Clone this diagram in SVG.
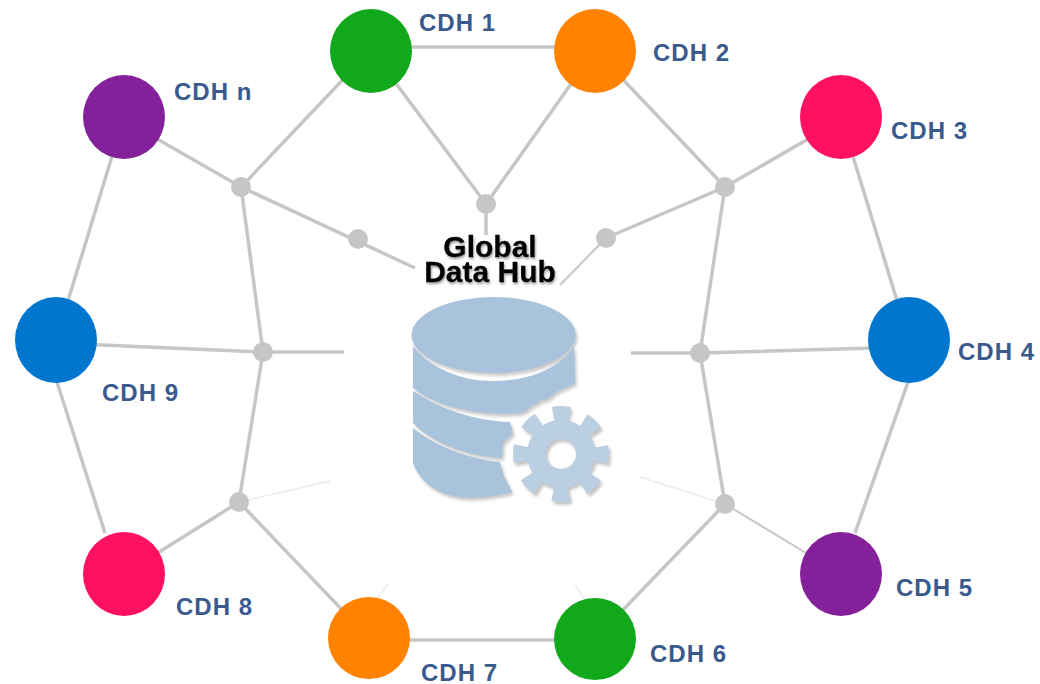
<svg xmlns="http://www.w3.org/2000/svg" width="1040" height="684" viewBox="0 0 1040 684">
<style>
.l{font:bold 24px "Liberation Sans",Arial,sans-serif;fill:#3a5a8e;letter-spacing:1px}
.t{font:bold 30px "Liberation Sans",Arial,sans-serif;fill:#000;text-anchor:middle;stroke:#000;stroke-width:.3px}
.c{fill:none;stroke:#c6c6c6;stroke-width:3.5}
.n{stroke:#c6c6c6;stroke-width:2;fill:none}
.f{stroke:#ececec;stroke-width:1.5;fill:none}
.h{fill:#c6c6c6}
.b{fill:#a9c3dc}
</style>
<defs>
<filter id="s" x="-20%" y="-20%" width="140%" height="140%"><feGaussianBlur stdDeviation="1.6"/></filter>
<filter id="ts" x="-10%" y="-20%" width="120%" height="150%"><feDropShadow dx="1" dy="2" stdDeviation="1.2" flood-color="#555" flood-opacity=".55"/></filter>
<g id="dbshape">
<path d="M413 346C430 368 460 381 493 381C530 381 560 368 574 346L575 383C568 387 560 389 553 394C548 401 540 399 536 404C529 406 527 412 519 413C490 416 440 410 413 388Z"/>
<path d="M413 391C440 409 475 421 510 422L513 433L503 443L502 458C470 456 435 445 413 423Z"/>
<path d="M413 428C435 446 465 458 500 462L503 474L512 492C495 496 475 499 460 497C440 494 422 486 413 463Z"/>
<ellipse cx="493.500" cy="335" rx="82" ry="38"/>
</g>
<g id="gearshape" fill="none">
<circle cx="561" cy="454" r="24.500" stroke-width="19"/>
<circle cx="561" cy="454" r="40" stroke-width="16" stroke-dasharray="16 15.416" stroke-dashoffset="8"/>
</g>
</defs>
<rect width="1040" height="684" fill="#fff"/>
<g id="connectors">
<path class="c" d="M371 47H595M369 640H595M124 117L56 340M57 382L105 533M841 117L909 340M908 382L855 533"/>
<path class="c" d="M124 120L241 187L415 268M371 50L241 187L263 352L239 502M371 50L486 204L595 50M486 204V235M595 50L725 187L841 120M725 187L700 353L725 504"/>
<path class="c" d="M56 343L263 352H344M909 347L700 353H631M124 574L239 502L369 638M595 639L725 504M725 187L606 238"/>
<path class="n" d="M725 504L841 574M606 238L560 285"/>
<path class="f" d="M239 502L330 481M725 504L640 477M378 598L388 584M585 600L575 585"/>
</g>
<g id="hubs">
<circle class="h" cx="241" cy="187" r="10"/>
<circle class="h" cx="725" cy="187" r="10"/>
<circle class="h" cx="486" cy="204" r="10"/>
<circle class="h" cx="358" cy="239" r="10"/>
<circle class="h" cx="606" cy="238" r="10"/>
<circle class="h" cx="263" cy="352" r="10"/>
<circle class="h" cx="700" cy="353" r="10"/>
<circle class="h" cx="239" cy="502" r="10"/>
<circle class="h" cx="725" cy="504" r="10"/>
</g>
<g id="cdh-1"><ellipse cx="371" cy="51" rx="41" ry="42" fill="#12a81c"/><text class="l" x="419" y="31">CDH 1</text></g>
<g id="cdh-2"><ellipse cx="595" cy="51" rx="41" ry="42" fill="#ff8200"/><text class="l" x="653" y="61">CDH 2</text></g>
<g id="cdh-3"><ellipse cx="841" cy="117" rx="41" ry="42" fill="#ff1160"/><text class="l" x="891" y="139">CDH 3</text></g>
<g id="cdh-4"><ellipse cx="909" cy="340" rx="41" ry="43" fill="#0176ce"/><text class="l" x="958" y="360">CDH 4</text></g>
<g id="cdh-5"><ellipse cx="841" cy="574" rx="41" ry="42" fill="#84219a"/><text class="l" x="896" y="596">CDH 5</text></g>
<g id="cdh-6"><ellipse cx="595" cy="639" rx="41" ry="41" fill="#12a81c"/><text class="l" x="650" y="662">CDH 6</text></g>
<g id="cdh-7"><ellipse cx="369" cy="638" rx="41" ry="41" fill="#ff8200"/><text class="l" x="421" y="681">CDH 7</text></g>
<g id="cdh-8"><ellipse cx="124" cy="574" rx="41" ry="42" fill="#ff1160"/><text class="l" x="176" y="615">CDH 8</text></g>
<g id="cdh-9"><ellipse cx="56" cy="340" rx="41" ry="43" fill="#0176ce"/><text class="l" x="102" y="401">CDH 9</text></g>
<g id="cdh-n"><ellipse cx="124" cy="117" rx="41" ry="42" fill="#84219a"/><text class="l" x="174" y="100">CDH n</text></g>
<g id="global-data-hub">
<use href="#dbshape" transform="translate(2 3)" fill="#8a8a8a" opacity=".45" filter="url(#s)"/>
<use href="#dbshape" class="b"/>
<use href="#gearshape" transform="translate(2 3)" stroke="#8a8a8a" opacity=".5" filter="url(#s)"/>
<use href="#gearshape" stroke="#bbcfe3"/>
<g filter="url(#ts)">
<text class="t" x="490" y="257">Global</text>
<text class="t" x="490" y="282">Data Hub</text>
</g>
</g>
</svg>
